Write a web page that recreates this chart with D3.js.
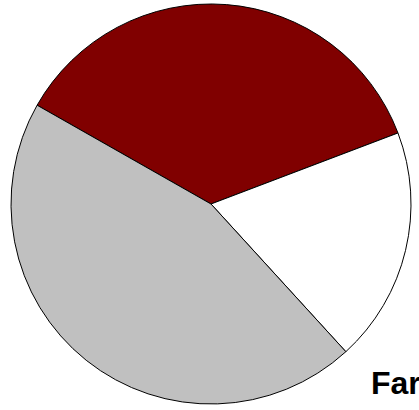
<!DOCTYPE html>
<html>
<head>
<meta charset="utf-8">
<script src="https://cdn.jsdelivr.net/npm/d3@7"></script>
<style>
  html, body { margin: 0; padding: 0; background: #ffffff; overflow: hidden; }
</style>
</head>
<body>
<div id="chart"></div>
<script>
const categories = ["Near", "Far", "Small"];
const values = [36, 19, 45];
const colours = ["#800000", "#ffffff", "#c0c0c0"];

const width = 419;
const height = 410;
const cx = 211, cy = 204, radius = 200;

const svg = d3.select("#chart")
    .append("svg")
    .attr("width", width)
    .attr("height", height);

const pie = d3.pie()
    .sort(null)
    .value(d => d)
    .startAngle(-60.4 * Math.PI / 180)
    .endAngle((360 - 60.4) * Math.PI / 180);

const arc = d3.arc()
    .innerRadius(0)
    .outerRadius(radius);

const colour = d3.scaleOrdinal().domain(categories).range(colours);

svg.append("g")
    .attr("transform", `translate(${cx},${cy})`)
    .selectAll("path")
    .data(pie(values))
    .enter().append("path")
    .attr("d", arc)
    .attr("fill", (d, i) => colour(categories[i]))
    .attr("stroke", "#000000")
    .attr("stroke-width", 1);

// labels sit partly outside the window, like in the original
svg.append("text")
    .attr("x", 371)
    .attr("y", 394)
    .attr("font-family", "Liberation Sans, Arial, sans-serif")
    .attr("font-weight", "bold")
    .attr("font-size", 32)
    .attr("fill", "#000000")
    .text(categories[1]);

svg.append("text")
    .attr("x", 13)
    .attr("y", 436)
    .attr("font-family", "Liberation Sans, Arial, sans-serif")
    .attr("font-weight", "bold")
    .attr("font-size", 33)
    .attr("fill", "#000000")
    .text(categories[2]);
</script>
</body>
</html>
